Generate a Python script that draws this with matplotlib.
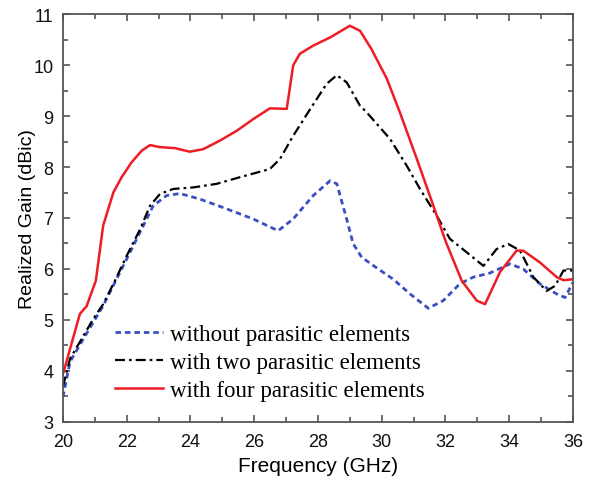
import numpy as np
import matplotlib.pyplot as plt
from matplotlib.ticker import MultipleLocator

# Courbes
freq_four = [20.0, 20.53, 20.74, 21.03, 21.26, 21.58, 21.84, 22.15, 22.47, 22.73, 23.04, 23.51,
             23.98, 24.40, 24.93, 25.45, 25.97, 26.49, 27.02, 27.22, 27.43, 27.85, 28.38, 29.0,
             29.32, 29.68, 30.16, 30.57, 31.10, 31.62, 32.0, 32.51, 32.98, 33.24, 33.71, 34.23,
             34.44, 34.96, 35.49, 35.70, 36.0]
gain_four = [3.94, 5.12, 5.27, 5.77, 6.85, 7.50, 7.80, 8.09, 8.32, 8.43, 8.39, 8.37,
             8.30, 8.35, 8.52, 8.71, 8.94, 9.15, 9.14, 9.99, 10.22, 10.38, 10.54, 10.77,
             10.67, 10.31, 9.73, 9.07, 8.16, 7.24, 6.55, 5.77, 5.38, 5.31, 5.94, 6.36,
             6.36, 6.13, 5.84, 5.78, 5.80]

freq_two = [20.0, 20.22, 20.53, 20.95, 21.26, 21.63, 22.0, 22.42, 22.73, 23.04, 23.46, 24.09,
            24.82, 25.55, 26.49, 26.81, 27.22, 27.76, 28.27, 28.59, 28.90, 29.32, 29.53, 30.26,
            30.78, 31.2, 31.72, 32.14, 32.66, 33.19, 33.6, 33.97, 34.34, 34.76, 35.17, 35.44,
            35.7, 36.0]
gain_two = [3.7, 4.24, 4.57, 5.02, 5.31, 5.77, 6.26, 6.78, 7.24, 7.47, 7.57, 7.60,
            7.67, 7.80, 7.96, 8.16, 8.61, 9.14, 9.63, 9.80, 9.66, 9.20, 9.07, 8.55,
            8.03, 7.57, 7.05, 6.59, 6.33, 6.06, 6.39, 6.49, 6.36, 5.84, 5.57, 5.67,
            5.97, 5.97]

freq_none = [20.0, 20.22, 20.64, 21.26, 22.0, 22.52, 22.83, 23.25, 23.67, 24.3, 25.13, 25.97,
             26.75, 27.22, 27.85, 28.38, 28.59, 28.9, 29.1, 29.37, 29.73, 30.36, 30.89, 31.46,
             31.93, 32.45, 32.87, 33.39, 34.02, 34.44, 34.96, 35.49, 35.75, 36.0]
gain_none = [3.49, 4.18, 4.63, 5.28, 6.2, 6.85, 7.24, 7.44, 7.48, 7.37, 7.18, 6.98,
             6.75, 6.98, 7.44, 7.73, 7.67, 6.98, 6.5, 6.23, 6.07, 5.80, 5.51, 5.23,
             5.38, 5.71, 5.84, 5.92, 6.10, 6.0, 5.71, 5.51, 5.44, 5.74]

labels = ['without parasitic elements', 'with two parasitic elements', 'with four parasitic elements']

fig = plt.figure(figsize=(5.92, 4.81), dpi=100)
ax = fig.add_axes([0.1064, 0.1206, 0.8615, 0.8482])

ax.plot(freq_none, gain_none, color='#3a4fc0', lw=2.0, dashes=(2.0, 1.4), label=labels[0])
ax.plot(freq_two, gain_two, color='black', lw=1.6, dashes=(4.5, 1.8, 1.2, 1.8), label=labels[1])
ax.plot(freq_four, gain_four, color='#ee1c24', lw=1.8, label=labels[2])

ax.set_xlim(20, 36)
ax.set_ylim(3, 11)
ax.xaxis.set_major_locator(MultipleLocator(2))
ax.xaxis.set_minor_locator(MultipleLocator(1))
ax.yaxis.set_major_locator(MultipleLocator(1))
ax.yaxis.set_minor_locator(MultipleLocator(0.5))
ax.tick_params(which='both', direction='in', top=True, right=True, color='#555555',
               labelsize=13, labelfontfamily='Liberation Sans', labelcolor='#111111')
ax.tick_params(which='major', length=5, width=1.2)
ax.tick_params(which='minor', length=3.5, width=1.2)
ax.tick_params(axis='x', pad=8)
ax.tick_params(axis='y', pad=7)
for sp in ax.spines.values():
    sp.set_color('#555555')
    sp.set_linewidth(1.3)

ax.set_xlabel('Frequency (GHz)', fontsize=15, family='Liberation Sans', labelpad=4)
ax.set_ylabel('Realized Gain (dBic)', fontsize=14, family='Liberation Sans', labelpad=-2)

leg = ax.legend(loc='upper left', bbox_to_anchor=(0.080, 0.269), frameon=False,
                prop={'family': 'Liberation Serif', 'size': 16.5},
                handlelength=2.1, handletextpad=0.3, labelspacing=0.32, borderpad=0)

plt.savefig('out.png', dpi=100)
